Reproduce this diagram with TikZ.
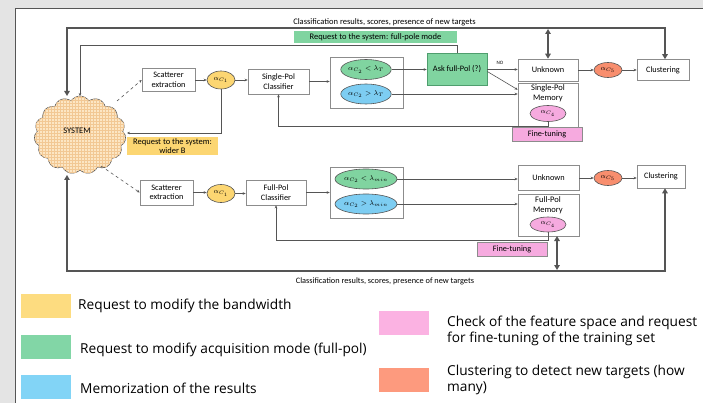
\documentclass[tikz,border=0pt]{standalone}
\usepackage{fontspec}
\setmainfont{Carlito}
\newfontfamily\legendfont{Open Sans}
\usetikzlibrary{shapes.geometric,shapes.symbols,patterns,arrows.meta,calc}

\definecolor{bggray}{HTML}{E4E4E4}
\definecolor{framegray}{HTML}{555555}
\definecolor{linegray}{HTML}{555555}
\definecolor{boxgray}{HTML}{8C8C8C}
\definecolor{cyellow}{HTML}{FCD672}
\definecolor{cgreen}{HTML}{80D4A0}
\definecolor{cgreendark}{HTML}{4F9E6E}
\definecolor{cblue}{HTML}{7DCDF2}
\definecolor{cpink}{HTML}{F6AADF}
\definecolor{corange}{HTML}{F88E6E}
\definecolor{cpeach}{HTML}{FCE6C4}
\definecolor{cgrid}{HTML}{F2C894}
\definecolor{lyellow}{HTML}{FDDC80}
\definecolor{lgreen}{HTML}{82D6A6}
\definecolor{lblue}{HTML}{82D4F6}
\definecolor{lpink}{HTML}{FBB2E2}
\definecolor{lorange}{HTML}{FD9A7E}

\tikzset{
  box/.style={draw=boxgray, fill=white, line width=0.6pt, inner sep=0pt,
    align=center, font=\fontsize{8.3}{9.5}\selectfont},
  grp/.style={draw=boxgray, fill=white, line width=0.6pt, inner sep=0pt},
  oval/.style={ellipse, draw=framegray, line width=0.6pt, inner sep=0pt,
    font=\fontsize{6.8}{7.5}\selectfont},
  tag/.style={inner sep=0pt, align=center, font=\fontsize{8.5}{9.5}\selectfont},
  conn/.style={draw=linegray, line width=0.6pt,
    -{Stealth[length=3pt,width=2.6pt]}},
  heavy/.style={draw=linegray, line width=2pt},
  heavytip/.style={heavy, {Triangle[length=5pt,width=5.5pt]}-{Triangle[length=5pt,width=5.5pt]}},
  swatch/.style={inner sep=0pt, minimum width=50pt, minimum height=24pt},
  legtext/.style={anchor=west, inner sep=0pt, align=left,
    font=\legendfont\fontsize{13.7}{16}\selectfont},
}

\begin{document}
\begin{tikzpicture}[x=1pt, y=-1pt]
% page and panel
\fill[bggray] (0,0) rectangle (703,403);
\useasboundingbox (0,0) rectangle (703,403);
\fill[white] (15,8) rectangle (703,403);
\draw[framegray, line width=0.8pt] (15,403) -- (15,8) -- (703,8);

% the system cloud
\node[cloud, cloud puffs=15, cloud puff arc=115, aspect=1.2,
  draw=framegray, line width=0.6pt, fill=cpeach,
  postaction={pattern=grid, pattern color=cgrid},
  minimum width=92pt, minimum height=78pt, inner sep=0pt] (sys) at (80,135) {};
\node[tag] (syslabel) at (77,131) {SYSTEM};

% single-pol branch
\node[box, minimum width=53pt, minimum height=23pt] (scA) at (168.5,80) {Scatterer\\extraction};
\node[oval, fill=cyellow, minimum width=28pt, minimum height=18pt] (aA) at (221,80) {$\alpha_{C_1}$};
\node[box, minimum width=61pt, minimum height=25pt] (spc) at (278.5,81.5) {Single-Pol\\Classifier};
\node[grp, minimum width=73pt, minimum height=51pt] (grpA) at (366.5,82.5) {};
\node[oval, fill=cgreen, minimum width=50pt, minimum height=20pt] (gA) at (366,69.5) {$\alpha_{C_2} < \lambda_T$};
\node[oval, fill=cblue, minimum width=50pt, minimum height=20pt] (bA) at (366,94) {$\alpha_{C_2} > \lambda_T$};
\node[box, fill=cgreen, draw=cgreendark, minimum width=60pt, minimum height=32pt] (ask) at (457,69.5) {Ask full-Pol (?)};
\node[box, minimum width=60pt, minimum height=22pt] (unkA) at (548,70) {Unknown};
\node[box, minimum width=60pt, minimum height=45pt] (memA) at (548,105.5) {};
\node[tag] (memAt) at (548,93) {Single-Pol\\Memory};
\node[oval, fill=cpink, minimum width=36pt, minimum height=16pt] (pA) at (548,113.5) {$\alpha_{C_4}$};
\node[oval, fill=corange, minimum width=28pt, minimum height=15pt] (oA) at (608,70) {$\alpha_{C_5}$};
\node[box, minimum width=52pt, minimum height=21pt] (clA) at (663,70) {Clustering};
\node[box, fill=cpink, draw=boxgray, minimum width=70pt, minimum height=14pt] (ftA) at (547,134) {Fine-tuning};
\node[tag, fill=cgreen, minimum width=163pt, minimum height=12pt] (reqF) at (375.5,37) {Request to the system: full-pole mode};
\node[tag, fill=cyellow, minimum width=91pt, minimum height=18pt] (reqB) at (172.5,146) {Request to the system:\\wider B};
\node[tag, font=\fontsize{5}{6}\selectfont] (no) at (500,63) {NO};

% full-pol branch
\node[box, minimum width=53pt, minimum height=25pt] (scB) at (166.5,192.5) {Scatterer\\extraction};
\node[oval, fill=cyellow, minimum width=28pt, minimum height=18pt] (aB) at (221,193.5) {$\alpha_{C_1}$};
\node[box, minimum width=60pt, minimum height=25pt] (fpc) at (276,192.5) {Full-Pol\\Classifier};
\node[grp, minimum width=73pt, minimum height=51pt] (grpB) at (366.5,192.5) {};
\node[oval, fill=cgreen, minimum width=50pt, minimum height=20pt] (gB) at (366,179) {$\alpha_{C_2} < \lambda_{min}$};
\node[oval, fill=cblue, minimum width=50pt, minimum height=20pt] (bB) at (366,204) {$\alpha_{C_2} > \lambda_{min}$};
\node[box, minimum width=61pt, minimum height=25pt] (unkB) at (548.5,177.5) {Unknown};
\node[box, minimum width=61pt, minimum height=42pt] (memB) at (548.5,215) {};
\node[tag] (memBt) at (548,205) {Full-Pol\\Memory};
\node[oval, fill=cpink, minimum width=36pt, minimum height=15pt] (pB) at (548,224.5) {$\alpha_{C_4}$};
\node[oval, fill=corange, minimum width=28pt, minimum height=15pt] (oB) at (608,178) {$\alpha_{C_5}$};
\node[box, minimum width=48pt, minimum height=23pt] (clB) at (661,176.5) {Clustering};
\node[box, fill=cpink, draw=boxgray, minimum width=70pt, minimum height=14pt] (ftB) at (512,249) {Fine-tuning};

% captions of the feedback buses
\node[tag] (capTop) at (384.5,22.5) {Classification results, scores, presence of new targets};
\node[tag, font=\fontsize{8.3}{9}\selectfont] (capBot) at (385,281) {Classification results, scores, presence of new targets};

% free ends on the cloud and bends of the buses
\coordinate (sysTopA) at (67,96);
\coordinate (sysTopB) at (80,96);
\coordinate (sysRight) at (127,133);
\coordinate (sysDashA) at (117,101);
\coordinate (sysDashB) at (101,166);
\coordinate (sysBot) at (67,175);
\coordinate (busTL) at (67,28);
\coordinate (busTR) at (665,28);
\coordinate (busBL) at (67,271);
\coordinate (busBR) at (665,271);
\coordinate (reqTL) at (80,45);
\coordinate (ftYA) at (0,126);
\coordinate (ftYB) at (0,240);
\coordinate (memBport) at (557,236);

% single-pol connectors
\draw[conn, dashed] (sysDashA) -- (scA.west);
\draw[conn] (scA) -- (aA);
\draw[conn] (aA) -- (aA -| spc.west);
\draw[conn] (spc.east) -- (spc.east -| grpA.west);
\draw[conn] (gA.east) -- (gA.east -| ask.west);
\draw[conn] (ask.east) -- (ask.east -| unkA.west);
\draw[conn] ($(ask.east)+(0,2)$) -- ($(memA.north west)+(0,7)$);
\draw[conn] (bA.east) -- (bA.east -| memA.west);
\draw[conn] (unkA) -- (oA);
\draw[conn] (oA) -- (oA -| clA.west);
\draw[conn] (aA.south) |- (sysRight);
\draw[conn] (pA.south) |- (spc.south |- ftYA) -- (spc.south);
\draw[conn] (ask.north) |- (reqTL) -- (sysTopB);

% full-pol connectors
\draw[conn, dashed] (sysDashB) -- (scB.west);
\draw[conn] (scB) -- (scB -| aB.west);
\draw[conn] (aB) -- (aB -| fpc.west);
\draw[conn] (fpc.east) -- (fpc.east -| grpB.west);
\draw[conn] (gB.east) -- (gB.east -| unkB.west);
\draw[conn] (bB.east) -- (bB.east -| memB.west);
\draw[conn] (unkB.east |- oB) -- (oB);
\draw[conn] (oB) -- (oB -| clB.west);
\draw[conn] (pB.south) |- (fpc.south |- ftYB) -- (fpc.south);

% feedback buses
\draw[heavytip] (sysTopA) -- (busTL) -- (busTR) -- (busTR |- clA.north);
\draw[heavytip] (unkA.north) -- ($(unkA.north |- busTR)+(0,1)$);
\draw[heavytip] (sysBot) -- (busBL) -- (busBR) -- (busBR |- clB.south);
\draw[heavytip] (memBport) -- ($(memBport |- busBR)+(0,-1)$);

% legend
\node[swatch, fill=lyellow] (sw1) at (45.5,305.5) {};
\node[legtext] (lt1) at (78,306) {Request to modify the bandwidth};
\node[swatch, fill=lgreen] (sw2) at (45.5,346.5) {};
\node[legtext] (lt2) at (80,350) {Request to modify acquisition mode (full-pol)};
\node[swatch, fill=lblue] (sw3) at (45.5,386.5) {};
\node[legtext] (lt3) at (80,388) {Memorization of the results};
\node[swatch, fill=lpink] (sw4) at (404,322.5) {};
\node[legtext] (lt4) at (447,331) {Check of the feature space and request\\for fine-tuning of the training set};
\node[swatch, fill=lorange] (sw5) at (404,379.5) {};
\node[legtext] (lt5) at (447,380) {Clustering to detect new targets (how\\many)};
\end{tikzpicture}
\end{document}
